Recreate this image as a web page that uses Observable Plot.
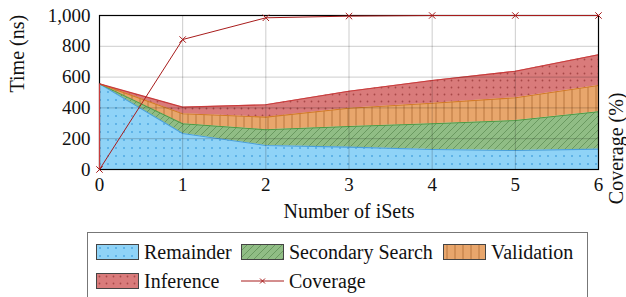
<!DOCTYPE html>
<html><head><meta charset="utf-8">
<script src="https://cdn.jsdelivr.net/npm/d3@7"></script>
<script src="https://cdn.jsdelivr.net/npm/@observablehq/plot@0.6"></script>
<style>
body{margin:0;background:#fff;font-family:"Liberation Serif",serif;}
#wrap{position:relative;width:626px;height:297px;overflow:hidden;}
#legend{position:absolute;left:87px;top:232px;width:501px;height:80px;border:1px solid #777;box-sizing:border-box;}
.li{position:absolute;font-family:"Liberation Serif",serif;font-size:20px;line-height:20px;color:#111;}
.sw{position:absolute;}
</style>
</head><body>
<svg width="0" height="0" style="position:absolute">
<defs>
<pattern id="pRem" patternUnits="userSpaceOnUse" width="8" height="8"><rect width="8" height="8" fill="#8fd3f7"/><circle cx="4" cy="4" r="1" fill="#4fa9e2"/></pattern>
<pattern id="pSec" patternUnits="userSpaceOnUse" width="7" height="7"><rect width="7" height="7" fill="#90bd85"/><path d="M-1,1 l2,-2 M0,7 l7,-7 M6,8 l2,-2" stroke="#5a8a50" stroke-width="0.7"/></pattern>
<pattern id="pVal" patternUnits="userSpaceOnUse" width="8" height="8"><rect width="8" height="8" fill="#e8a66c"/><path d="M4,0 V8" stroke="#b5703a" stroke-width="0.9"/></pattern>
<pattern id="pInf" patternUnits="userSpaceOnUse" width="7" height="7"><rect width="7" height="7" fill="#d97b7b"/><circle cx="3.5" cy="3.5" r="0.9" fill="#a84848"/></pattern>
</defs></svg>
<div id="wrap"><div id="chart"></div><div id="legend"></div></div>
<script>
const xs = [0, 1, 2, 3, 4, 5, 6];
const seriesNames = ["Remainder", "Secondary Search", "Validation", "Inference"];
const remainder  = [556, 234, 156, 145, 130, 123, 132];
const secondary  = [0, 63, 102, 134, 167, 195, 243];
const validation = [0, 65, 82, 119, 133, 148, 170];
const inference  = [0, 43, 80, 110, 148, 172, 200];
const coverage   = [0, 84.4, 98.5, 99.6, 100, 100, 100];
const yTicks = [0, 200, 400, 600, 800, 1000];

const fills = ["url(#pRem)", "url(#pSec)", "url(#pVal)", "url(#pInf)"];
const edges = ["#4a9fd8", "#4f9a45", "#d27a28", "#c83c3c"];
const covColor = "#a81c1c";
const FONT = '"Liberation Serif", serif';

const values = [remainder, secondary, validation, inference];
const data = [];
seriesNames.forEach((s, i) => xs.forEach((x, j) => data.push({x, s, v: values[i][j]})));
const covData = xs.map((x, j) => ({x, c: coverage[j]}));
const firstTotal = values.reduce((a, arr) => a + arr[0], 0);

const plot = Plot.plot({
  width: 626, height: 228,
  marginTop: 15, marginBottom: 59, marginLeft: 99, marginRight: 28,
  style: {fontFamily: FONT, fontSize: "19px", color: "#111", overflow: "visible"},
  x: {domain: [0, 6], ticks: xs, tickSize: 0, tickPadding: 8, tickFormat: d => String(d), label: null},
  y: {domain: [0, 1000], ticks: yTicks, tickSize: 0, tickPadding: 9, tickFormat: d3.format(","), label: null},
  color: {domain: seriesNames, range: fills},
  marks: [
    Plot.areaY(data, {x: "x", y: "v", z: "s", fill: "s", fillOpacity: 1}),
    Plot.lineY(data, Plot.stackY2({x: "x", y: "v", z: "s", stroke: d => edges[seriesNames.indexOf(d.s)], strokeWidth: 1.1})),
    Plot.gridX(xs, {stroke: "#000", strokeOpacity: 0.2}),
    Plot.gridY(yTicks, {stroke: "#000", strokeOpacity: 0.2}),
    Plot.frame({stroke: "#000", strokeWidth: 1.2}),
    Plot.ruleX([0], {y1: 0, y2: firstTotal, stroke: edges[3], strokeWidth: 1.2}),
    Plot.line(covData, {x: "x", y: d => d.c * 10, stroke: covColor, strokeWidth: 1}),
    Plot.dot(covData, {x: "x", y: d => d.c * 10, symbol: "times", r: 3, stroke: covColor, strokeWidth: 1}),
    Plot.text(["Time (ns)"], {frameAnchor: "left", text: d => d, rotate: -90, dx: -82, fontSize: 20}),
    Plot.text(["Coverage (%)"], {frameAnchor: "right", text: d => d, rotate: -90, dx: 18, fontSize: 20}),
    Plot.text(["Number of iSets"], {frameAnchor: "bottom", text: d => d, dy: 48, fontSize: 20})
  ]
});
document.getElementById("chart").appendChild(plot);

// legend
const legend = document.getElementById("legend");
const items = [
  {name: seriesNames[0], kind: "area", i: 0, x: 8, y: 11, tx: 56},
  {name: seriesNames[1], kind: "area", i: 1, x: 153, y: 11, tx: 201},
  {name: seriesNames[2], kind: "area", i: 2, x: 355, y: 11, tx: 403},
  {name: seriesNames[3], kind: "area", i: 3, x: 8, y: 40, tx: 56},
  {name: "Coverage", kind: "line", x: 153, y: 40, tx: 201}
];
const ns = "http://www.w3.org/2000/svg";
items.forEach(it => {
  const s = document.createElementNS(ns, "svg");
  s.setAttribute("width", 44); s.setAttribute("height", 16);
  s.setAttribute("class", "sw");
  s.style.left = it.x + "px"; s.style.top = it.y + "px";
  if (it.kind === "area") {
    const r = document.createElementNS(ns, "rect");
    r.setAttribute("x", 0.5); r.setAttribute("y", 0.5); r.setAttribute("width", 42); r.setAttribute("height", 15);
    r.setAttribute("fill", fills[it.i]); r.setAttribute("stroke", "#444"); r.setAttribute("stroke-width", 1);
    s.appendChild(r);
  } else {
    const l = document.createElementNS(ns, "line");
    l.setAttribute("x1", 0); l.setAttribute("x2", 43); l.setAttribute("y1", 8); l.setAttribute("y2", 8);
    l.setAttribute("stroke", covColor); l.setAttribute("stroke-width", 1);
    s.appendChild(l);
    const p = document.createElementNS(ns, "path");
    p.setAttribute("d", "M19,5.5 l5,5 M24,5.5 l-5,5");
    p.setAttribute("stroke", covColor); p.setAttribute("stroke-width", 1);
    s.appendChild(p);
  }
  legend.appendChild(s);
  const t = document.createElement("div");
  t.className = "li"; t.textContent = it.name;
  t.style.left = it.tx + "px"; t.style.top = (it.y - 2) + "px";
  legend.appendChild(t);
});
</script>
</body></html>
